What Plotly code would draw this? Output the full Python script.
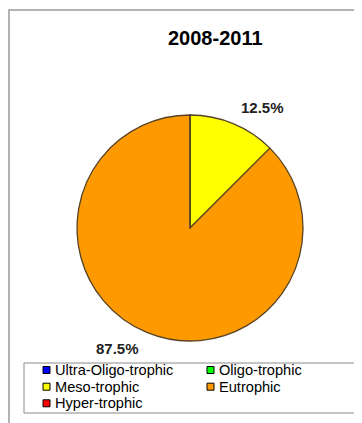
import math
import plotly.graph_objects as go

# ---- data ----
title_text = "2008-2011"
categories = ["Ultra-Oligo-trophic", "Oligo-trophic", "Meso-trophic", "Eutrophic", "Hyper-trophic"]
values = [0, 0, 12.5, 87.5, 0]
colors = ["#0000FF", "#00FF00", "#FFFF00", "#FF9900", "#FF0000"]

# page body has an 8px default margin; lay the figure out in window coordinates
OFF = 8
W, H = 362 - OFF, 423 - OFF
def px(x):
    return (x - OFF) / W
def py(y):
    return 1 - (y - OFF) / H

# pie geometry (window pixels)
cx, cy, r = 190, 228, 113

fig = go.Figure()
fig.add_trace(go.Pie(
    labels=categories,
    values=values,
    marker=dict(colors=colors, line=dict(color="#574326", width=1.3)),
    sort=False,
    direction="clockwise",
    rotation=0,
    textinfo="none",
    hoverinfo="label+percent",
    showlegend=False,
    domain=dict(x=[px(cx - r), px(cx + r)], y=[py(cy + r + 1), py(cy - r - 1)]),
))

annotations = []
shapes = []

# title
annotations.append(dict(x=px(cx + 25), y=py(38), xref="paper", yref="paper",
                        text="<b>%s</b>" % title_text, showarrow=False,
                        xanchor="center", yanchor="middle",
                        font=dict(family="Liberation Sans, Arial", size=20, color="#000")))

# percentage labels, placed from cumulative angles
total = sum(values)
cum = 0.0
label_offset_deg = 8.5
label_dist = 1.24
for v in values:
    if v > 0:
        mid = (cum + v / 2) / total * 360 + label_offset_deg
        a = math.radians(mid)
        lx = cx + label_dist * r * math.sin(a)
        ly = cy - label_dist * r * math.cos(a)
        annotations.append(dict(x=px(lx), y=py(ly), xref="paper", yref="paper",
                                text="<b>%.1f%%</b>" % (v / total * 100), showarrow=False,
                                xanchor="center", yanchor="middle",
                                font=dict(family="Liberation Sans, Arial", size=15, color="#222")))
    cum += v

# outer chart frame
shapes.append(dict(type="rect", xref="paper", yref="paper",
                   x0=px(9), x1=px(362 + 5), y0=py(423 + 5), y1=py(10),
                   line=dict(color="#9a9a9a", width=1.5)))

# legend box
shapes.append(dict(type="rect", xref="paper", yref="paper",
                   x0=px(24), x1=px(357), y0=py(413), y1=py(363),
                   line=dict(color="#8a8a8a", width=1)))

col_x = [43, 207]
row_y = [370, 386.7, 403.3]
for i, (lab, col) in enumerate(zip(categories, colors)):
    c = i % 2
    rr = i // 2
    sx, sy = col_x[c], row_y[rr]
    shapes.append(dict(type="rect", xref="paper", yref="paper",
                       x0=px(sx), x1=px(sx + 7), y0=py(sy + 3.5), y1=py(sy - 3.5),
                       fillcolor=col, line=dict(color="#000", width=1)))
    annotations.append(dict(x=px(sx + 10), y=py(sy), xref="paper", yref="paper",
                            text=lab, showarrow=False, xanchor="left", yanchor="middle",
                            font=dict(family="Liberation Sans, Arial", size=14.6, color="#000")))

fig.update_layout(
    width=W, height=H,
    margin=dict(l=0, r=0, t=0, b=0),
    paper_bgcolor="#ffffff",
    plot_bgcolor="#ffffff",
    annotations=annotations,
    shapes=shapes,
    showlegend=False,
)

fig.write_html("out.html")
